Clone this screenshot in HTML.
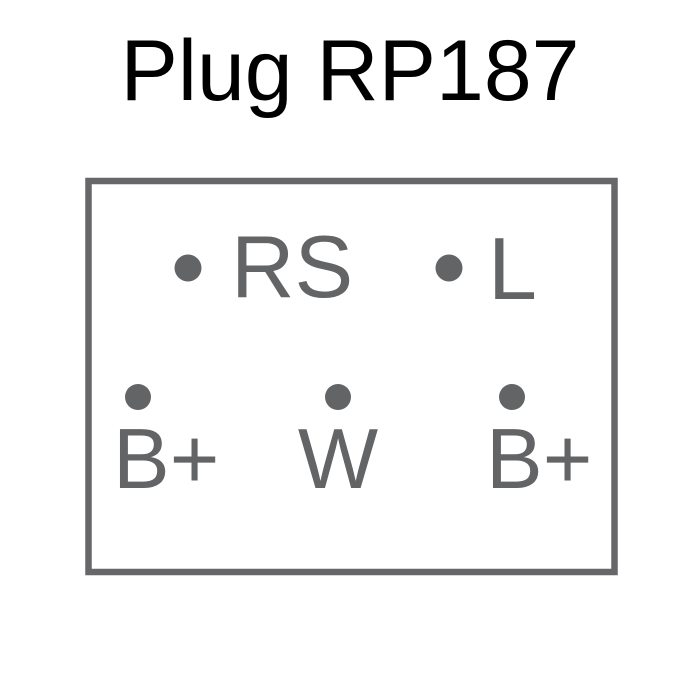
<!DOCTYPE html>
<html><head><style>html,body{margin:0;padding:0;background:#fff}svg{display:block}</style></head>
<body>
<svg width="700" height="700" viewBox="0 0 700 700" xmlns="http://www.w3.org/2000/svg">
<rect width="700" height="700" fill="#fff"/>
<text x="350" y="100" text-anchor="middle" font-family="Liberation Sans, sans-serif" font-size="86" fill="#000">Plug RP187</text>
<rect x="88.5" y="181" width="526" height="391" fill="none" stroke="#676769" stroke-width="6.5"/>
<g fill="#636466" font-family="Liberation Sans, sans-serif" font-size="88">
<circle cx="188" cy="268" r="13.5"/>
<circle cx="449" cy="268" r="13.5"/>
<circle cx="138" cy="397" r="13"/>
<circle cx="338" cy="397" r="13"/>
<circle cx="512" cy="397" r="13"/>
<text x="231" y="297">RS</text>
<text x="488" y="299">L</text>
<text x="113" y="488" font-size="85">B+</text>
<text x="338" y="488" font-size="85" text-anchor="middle">W</text>
<text x="486" y="488" font-size="85">B+</text>
</g>
</svg>
</body></html>
